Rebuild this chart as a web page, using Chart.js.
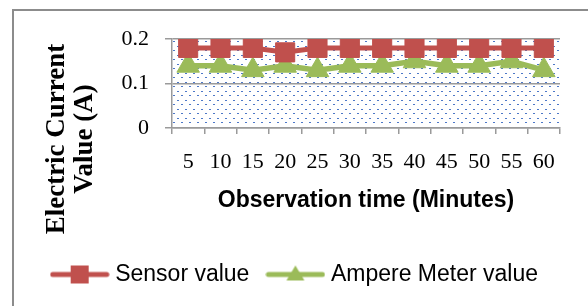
<!DOCTYPE html>
<html>
<head>
<meta charset="utf-8">
<script src="https://cdn.jsdelivr.net/npm/chart.js@4.4.0/dist/chart.umd.min.js"></script>
<style>
  html, body { margin: 0; padding: 0; background: #fff; }
  #wrap { position: relative; width: 588px; height: 306px; overflow: hidden; }
  #frame { position: absolute; left: 12px; top: 9px; width: 620px; height: 340px; border: 2px solid #8c8c8c; box-sizing: border-box; }
  canvas { position: absolute; left: 0; top: 0; }
</style>
</head>
<body>
<div id="wrap">
  <div id="frame"></div>
  <canvas id="c" width="588" height="306"></canvas>
</div>
<script>
const categories = ['5', '10', '15', '20', '25', '30', '35', '40', '45', '50', '55', '60'];
const sensorValues = [0.18, 0.18, 0.18, 0.17, 0.18, 0.18, 0.18, 0.18, 0.18, 0.18, 0.18, 0.18];
const ammeterValues = [0.14, 0.14, 0.13, 0.14, 0.13, 0.14, 0.14, 0.15, 0.14, 0.14, 0.15, 0.13];
const yTickLabels = ['0', '0.1', '0.2'];
const seriesNames = ['Sensor value', 'Ampere Meter value'];
const xTitle = 'Observation time (Minutes)';
const yTitle = ['Electric Current', 'Value (A)'];

const RED = '#C0504D';
const GREEN = '#9BBB59';
const GRID = '#9a9a9a';

function makeDotPattern() {
  const p = document.createElement('canvas');
  p.width = 8; p.height = 9;
  const g = p.getContext('2d');
  g.fillStyle = '#ffffff';
  g.fillRect(0, 0, 8, 9);
  g.fillStyle = '#4d78c8';
  g.fillRect(1, 1, 2, 1);
  g.fillRect(5, 5, 2, 1);
  return p;
}

function legendIcon(color, style) {
  const c = document.createElement('canvas');
  c.width = 60; c.height = 22;
  const g = c.getContext('2d');
  g.strokeStyle = color;
  g.lineWidth = 5;
  g.lineCap = 'round';
  g.beginPath(); g.moveTo(3, 11); g.lineTo(57, 11); g.stroke();
  g.fillStyle = color;
  if (style === 'rect') {
    g.fillRect(21, 2, 18, 18);
  } else {
    g.beginPath(); g.moveTo(30, 2); g.lineTo(39, 17); g.lineTo(21, 17); g.closePath(); g.fill();
  }
  return c;
}

const icons = [legendIcon(RED, 'rect'), legendIcon(GREEN, 'triangle')];

const plotBg = {
  id: 'plotBg',
  beforeDraw(chart) {
    const {ctx, chartArea: a} = chart;
    ctx.save();
    ctx.fillStyle = ctx.createPattern(makeDotPattern(), 'repeat');
    ctx.fillRect(a.left, a.top, a.right - a.left, a.bottom - a.top);
    ctx.restore();
  }
};

const yTitlePlugin = {
  id: 'yTitle',
  afterDraw(chart) {
    const ctx = chart.ctx;
    ctx.save();
    ctx.font = 'bold 27px "Liberation Serif"';
    ctx.fillStyle = '#000';
    ctx.textAlign = 'center';
    ctx.textBaseline = 'middle';
    const cy = 139;
    const xs = [57, 85];
    yTitle.forEach((t, i) => {
      ctx.save();
      ctx.translate(xs[i], cy);
      ctx.rotate(-Math.PI / 2);
      ctx.fillText(t, 0, 0);
      ctx.restore();
    });
    ctx.restore();
  }
};

new Chart(document.getElementById('c'), {
  type: 'line',
  data: {
    labels: categories,
    datasets: [
      {
        label: seriesNames[0],
        data: sensorValues,
        borderColor: RED,
        backgroundColor: RED,
        borderWidth: 5,
        pointStyle: 'rect',
        pointRadius: 13.5,
        pointBorderWidth: 1,
        pointBackgroundColor: RED,
        pointBorderColor: RED,
        tension: 0
      },
      {
        label: seriesNames[1],
        data: ammeterValues,
        borderColor: GREEN,
        backgroundColor: GREEN,
        borderWidth: 5.5,
        pointStyle: 'triangle',
        pointRadius: 13,
        pointBorderWidth: 1,
        pointBackgroundColor: GREEN,
        pointBorderColor: GREEN,
        tension: 0
      }
    ]
  },
  options: {
    responsive: false,
    animation: false,
    devicePixelRatio: 1,
    layout: { padding: { left: 0, right: 28, top: 39, bottom: 10 } },
    plugins: {
      tooltip: { enabled: false },
      title: { display: false },
      legend: {
        display: true,
        position: 'bottom',
        align: 'end',
        labels: {
          usePointStyle: true,
          pointStyleWidth: 48,
          color: '#000',
          font: { family: '"Liberation Sans"', size: 23 },
          padding: 22,
          generateLabels(chart) {
            return chart.data.datasets.map((ds, i) => ({
              text: ds.label,
              pointStyle: icons[i],
              fillStyle: ds.borderColor,
              strokeStyle: ds.borderColor,
              lineWidth: 0,
              hidden: false,
              datasetIndex: i,
              fontColor: '#000'
            }));
          }
        }
      }
    },
    scales: {
      x: {
        type: 'category',
        offset: true,
        afterFit(scale) { scale.height = 113; },
        grid: { offset: true, drawOnChartArea: false, drawTicks: true, tickLength: 6, color: GRID, lineWidth: 1.5 },
        border: { display: true, color: GRID, width: 1.5 },
        ticks: {
          autoSkip: false, maxRotation: 0, minRotation: 0,
          color: '#000', padding: 15,
          font: { family: '"Liberation Serif"', size: 22 }
        },
        title: {
          display: true, text: xTitle, color: '#000',
          font: { family: '"Liberation Sans"', size: 23, weight: 'bold' },
          padding: { top: 0, bottom: 27 }
        }
      },
      y: {
        min: 0, max: 0.2,
        afterFit(scale) { scale.width = 172; },
        grid: { color: GRID, lineWidth: 1.5, tickLength: 7 },
        border: { display: true, color: GRID, width: 1.5 },
        ticks: {
          stepSize: 0.1, color: '#000', padding: 16,
          font: { family: '"Liberation Serif"', size: 22 },
          callback(v, i) { return yTickLabels[i]; }
        }
      }
    }
  },
  plugins: [plotBg, yTitlePlugin]
});
</script>
</body>
</html>
